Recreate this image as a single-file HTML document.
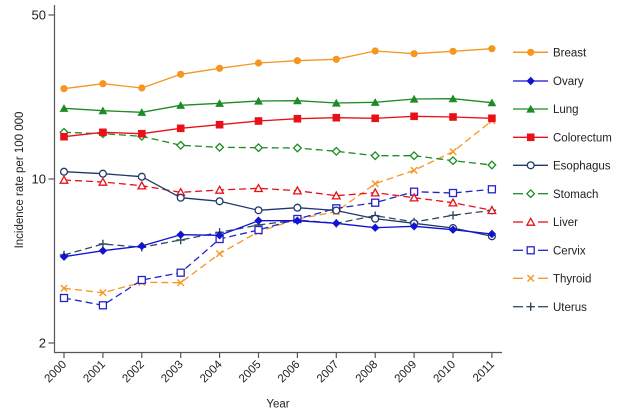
<!DOCTYPE html>
<html><head><meta charset="utf-8"><style>
html,body{margin:0;padding:0;background:#fff;}
svg{display:block;font-family:"Liberation Sans",Arial,sans-serif;}
</style></head><body>
<svg width="620" height="411" viewBox="0 0 620 411" xmlns="http://www.w3.org/2000/svg">
<defs>
<marker id="mBreast" markerUnits="userSpaceOnUse" markerWidth="10" markerHeight="10" refX="5" refY="5" overflow="visible"><circle cx="5" cy="5" r="3.6" fill="#F5961F"/></marker>
<marker id="mOvary" markerUnits="userSpaceOnUse" markerWidth="10" markerHeight="10" refX="5" refY="5" overflow="visible"><polygon points="5,0.8 9.2,5 5,9.2 0.8,5" fill="#1212D2"/></marker>
<marker id="mLung" markerUnits="userSpaceOnUse" markerWidth="10" markerHeight="10" refX="5" refY="5" overflow="visible"><polygon points="5,0.8 9.4,8.6 0.6,8.6" fill="#1E8B24"/></marker>
<marker id="mColo" markerUnits="userSpaceOnUse" markerWidth="10" markerHeight="10" refX="5" refY="5" overflow="visible"><rect x="1.2" y="1.2" width="7.6" height="7.6" fill="#E8111A"/></marker>
<marker id="mEso" markerUnits="userSpaceOnUse" markerWidth="10" markerHeight="10" refX="5" refY="5" overflow="visible"><circle cx="5" cy="5" r="3.4" fill="#fff" stroke="#1F3A68" stroke-width="1.3"/></marker>
<marker id="mSto" markerUnits="userSpaceOnUse" markerWidth="10" markerHeight="10" refX="5" refY="5" overflow="visible"><polygon points="5,1.2 8.8,5 5,8.8 1.2,5" fill="#fff" stroke="#1E8B24" stroke-width="1.3"/></marker>
<marker id="mLiver" markerUnits="userSpaceOnUse" markerWidth="10" markerHeight="10" refX="5" refY="5" overflow="visible"><polygon points="5,1.3 8.8,8.2 1.2,8.2" fill="#fff" stroke="#E8111A" stroke-width="1.3"/></marker>
<marker id="mCer" markerUnits="userSpaceOnUse" markerWidth="10" markerHeight="10" refX="5" refY="5" overflow="visible"><rect x="1.5" y="1.5" width="7" height="7" fill="#fff" stroke="#2424C8" stroke-width="1.3"/></marker>
<marker id="mThy" markerUnits="userSpaceOnUse" markerWidth="10" markerHeight="10" refX="5" refY="5" overflow="visible"><path d="M1.8,1.8 L8.2,8.2 M8.2,1.8 L1.8,8.2" stroke="#F5961F" stroke-width="1.4" fill="none"/></marker>
<marker id="mUte" markerUnits="userSpaceOnUse" markerWidth="10" markerHeight="10" refX="5" refY="5" overflow="visible"><path d="M5,0.8 L5,9.2 M0.8,5 L9.2,5" stroke="#2E4A5E" stroke-width="1.4" fill="none"/></marker>
</defs>

<!-- axes -->
<line x1="54.5" y1="5" x2="54.5" y2="352.5" stroke="#555" stroke-width="1.2"/>
<line x1="54" y1="352.5" x2="502" y2="352.5" stroke="#555" stroke-width="1.2"/>
<!-- y ticks -->
<g stroke="#555" stroke-width="1.2">
<line x1="48.5" y1="15" x2="54.5" y2="15"/>
<line x1="48.5" y1="179" x2="54.5" y2="179"/>
<line x1="48.5" y1="343" x2="54.5" y2="343"/>
</g>
<g font-size="13" fill="#222" text-anchor="end">
<text x="46" y="19.5">50</text>
<text x="46" y="183.5">10</text>
<text x="46" y="347.5">2</text>
</g>
<text transform="translate(23,180) rotate(-90)" text-anchor="middle" font-size="11.5" fill="#222">Incidence rate per 100 000</text>

<!-- x ticks -->
<g stroke="#555" stroke-width="1.2">
<line x1="64" y1="352.5" x2="64" y2="358"/>
<line x1="102.9" y1="352.5" x2="102.9" y2="358"/>
<line x1="141.8" y1="352.5" x2="141.8" y2="358"/>
<line x1="180.7" y1="352.5" x2="180.7" y2="358"/>
<line x1="219.6" y1="352.5" x2="219.6" y2="358"/>
<line x1="258.5" y1="352.5" x2="258.5" y2="358"/>
<line x1="297.4" y1="352.5" x2="297.4" y2="358"/>
<line x1="336.3" y1="352.5" x2="336.3" y2="358"/>
<line x1="375.2" y1="352.5" x2="375.2" y2="358"/>
<line x1="414.1" y1="352.5" x2="414.1" y2="358"/>
<line x1="453" y1="352.5" x2="453" y2="358"/>
<line x1="491.9" y1="352.5" x2="491.9" y2="358"/>
</g>
<g font-size="11.5" fill="#222" text-anchor="end">
<text transform="translate(67,365) rotate(-45)">2000</text>
<text transform="translate(105.9,365) rotate(-45)">2001</text>
<text transform="translate(144.8,365) rotate(-45)">2002</text>
<text transform="translate(183.7,365) rotate(-45)">2003</text>
<text transform="translate(222.6,365) rotate(-45)">2004</text>
<text transform="translate(261.5,365) rotate(-45)">2005</text>
<text transform="translate(300.4,365) rotate(-45)">2006</text>
<text transform="translate(339.3,365) rotate(-45)">2007</text>
<text transform="translate(378.2,365) rotate(-45)">2008</text>
<text transform="translate(417.1,365) rotate(-45)">2009</text>
<text transform="translate(456,365) rotate(-45)">2010</text>
<text transform="translate(494.9,365) rotate(-45)">2011</text>
</g>
<text x="278" y="407.5" text-anchor="middle" font-size="11.5" fill="#222">Year</text>

<!-- series -->
<g fill="none" stroke-width="1.3" stroke-linejoin="round">
<polyline stroke="#2E4A5E" stroke-dasharray="7 4" marker-start="url(#mUte)" marker-mid="url(#mUte)" marker-end="url(#mUte)"
 points="64,255 102.9,244 141.8,247.3 180.7,240 219.6,232.3 258.5,225 297.4,220 336.3,223.3 375.2,215.7 414.1,222 453,215.3 491.9,210.3"/>
<polyline stroke="#F5961F" stroke-dasharray="7 4" marker-start="url(#mThy)" marker-mid="url(#mThy)" marker-end="url(#mThy)"
 points="64,288.3 102.9,292.7 141.8,282.3 180.7,282.7 219.6,253.7 258.5,231.7 297.4,219 336.3,211.7 375.2,183.7 414.1,170.3 453,151.7 491.9,120.7"/>
<polyline stroke="#2424C8" stroke-dasharray="7 4" marker-start="url(#mCer)" marker-mid="url(#mCer)" marker-end="url(#mCer)"
 points="64,298 102.9,305.3 141.8,280 180.7,272.7 219.6,239 258.5,230 297.4,219 336.3,208.3 375.2,202.7 414.1,191.7 453,193 491.9,189.3"/>
<polyline stroke="#E8111A" stroke-dasharray="7 4" marker-start="url(#mLiver)" marker-mid="url(#mLiver)" marker-end="url(#mLiver)"
 points="64,180 102.9,182 141.8,185.7 180.7,192.3 219.6,190 258.5,188.3 297.4,190.7 336.3,195.7 375.2,192.7 414.1,197.7 453,202.7 491.9,210.3"/>
<polyline stroke="#1E8B24" stroke-dasharray="7 4" marker-start="url(#mSto)" marker-mid="url(#mSto)" marker-end="url(#mSto)"
 points="64,132.3 102.9,133.7 141.8,136.3 180.7,145.3 219.6,147.3 258.5,147.7 297.4,148 336.3,151.3 375.2,155.7 414.1,155.7 453,160.7 491.9,165"/>
<polyline stroke="#1F3A68" marker-start="url(#mEso)" marker-mid="url(#mEso)" marker-end="url(#mEso)"
 points="64,171.7 102.9,173.7 141.8,176.7 180.7,197.7 219.6,201.3 258.5,210.3 297.4,207.7 336.3,210.5 375.2,218.7 414.1,223.3 453,228 491.9,236.3"/>
<polyline stroke="#E8111A" marker-start="url(#mColo)" marker-mid="url(#mColo)" marker-end="url(#mColo)"
 points="64,136.7 102.9,132.3 141.8,133.7 180.7,128.3 219.6,124.7 258.5,121 297.4,118.7 336.3,117.7 375.2,118.3 414.1,116.3 453,117 491.9,118.3"/>
<polyline stroke="#1E8B24" marker-start="url(#mLung)" marker-mid="url(#mLung)" marker-end="url(#mLung)"
 points="64,108.3 102.9,110.7 141.8,112.3 180.7,105.3 219.6,103.3 258.5,101 297.4,100.7 336.3,103 375.2,102.3 414.1,99 453,98.7 491.9,102.7"/>
<polyline stroke="#1212D2" marker-start="url(#mOvary)" marker-mid="url(#mOvary)" marker-end="url(#mOvary)"
 points="64,256.7 102.9,250.7 141.8,246 180.7,234.7 219.6,235.3 258.5,220.7 297.4,220.7 336.3,223.3 375.2,227.7 414.1,226.3 453,229.7 491.9,234"/>
<polyline stroke="#F5961F" marker-start="url(#mBreast)" marker-mid="url(#mBreast)" marker-end="url(#mBreast)"
 points="64,88.7 102.9,83.7 141.8,88 180.7,74.3 219.6,68.3 258.5,63 297.4,60.7 336.3,59.3 375.2,51 414.1,53.7 453,51.3 491.9,48.7"/>
</g>

<!-- legend -->
<g fill="none" stroke-width="1.3">
<polyline stroke="#F5961F" points="513,52.3 548,52.3" marker-mid="url(#mBreast)" marker-start="none"/>
<polyline stroke="#F5961F" points="513,52.3 530.7,52.3 548,52.3" marker-mid="url(#mBreast)"/>
<polyline stroke="#1212D2" points="513,81 530.7,81 548,81" marker-mid="url(#mOvary)"/>
<polyline stroke="#1E8B24" points="513,109 530.7,109 548,109" marker-mid="url(#mLung)"/>
<polyline stroke="#E8111A" points="513,137.3 530.7,137.3 548,137.3" marker-mid="url(#mColo)"/>
<polyline stroke="#1F3A68" points="513,165.3 530.7,165.3 548,165.3" marker-mid="url(#mEso)"/>
<line stroke="#1E8B24" x1="513" y1="193.7" x2="523" y2="193.7"/><line stroke="#1E8B24" x1="538" y1="193.7" x2="548" y2="193.7"/>
<polyline stroke="none" points="525,193.7 530.7,193.7 536,193.7" marker-mid="url(#mSto)"/>
<line stroke="#E8111A" x1="513" y1="222" x2="523" y2="222"/><line stroke="#E8111A" x1="538" y1="222" x2="548" y2="222"/>
<polyline stroke="none" points="525,222 530.7,222 536,222" marker-mid="url(#mLiver)"/>
<line stroke="#2424C8" x1="513" y1="250.3" x2="523" y2="250.3"/><line stroke="#2424C8" x1="538" y1="250.3" x2="548" y2="250.3"/>
<polyline stroke="none" points="525,250.3 530.7,250.3 536,250.3" marker-mid="url(#mCer)"/>
<line stroke="#F5961F" x1="513" y1="278.3" x2="523" y2="278.3"/><line stroke="#F5961F" x1="538" y1="278.3" x2="548" y2="278.3"/>
<polyline stroke="none" points="525,278.3 530.7,278.3 536,278.3" marker-mid="url(#mThy)"/>
<line stroke="#2E4A5E" x1="513" y1="306.7" x2="523" y2="306.7"/><line stroke="#2E4A5E" x1="538" y1="306.7" x2="548" y2="306.7"/>
<polyline stroke="none" points="525,306.7 530.7,306.7 536,306.7" marker-mid="url(#mUte)"/>
</g>
<g font-size="11.5" fill="#222">
<text x="553" y="56.5">Breast</text>
<text x="553" y="85.2">Ovary</text>
<text x="553" y="113.2">Lung</text>
<text x="553" y="141.5">Colorectum</text>
<text x="553" y="169.5">Esophagus</text>
<text x="553" y="197.9">Stomach</text>
<text x="553" y="226.2">Liver</text>
<text x="553" y="254.5">Cervix</text>
<text x="553" y="282.5">Thyroid</text>
<text x="553" y="310.9">Uterus</text>
</g>
</svg>
</body></html>
